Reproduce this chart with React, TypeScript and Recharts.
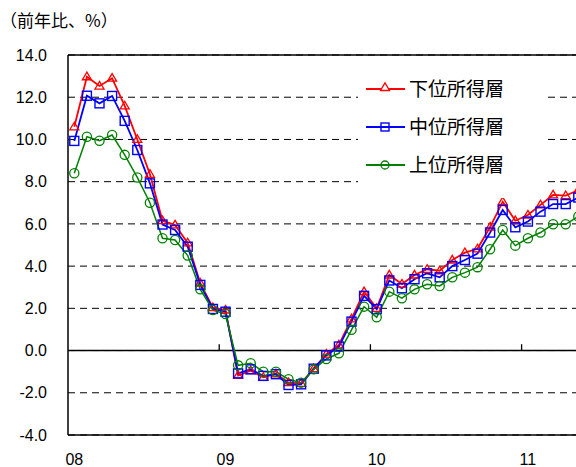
import React from 'react';
import { LineChart, Line, XAxis, YAxis, CartesianGrid, ReferenceLine, Legend } from 'recharts';

const months = [
  '2008-01', '2008-02', '2008-03', '2008-04', '2008-05', '2008-06', '2008-07', '2008-08', '2008-09', '2008-10', '2008-11', '2008-12',
  '2009-01', '2009-02', '2009-03', '2009-04', '2009-05', '2009-06', '2009-07', '2009-08', '2009-09', '2009-10', '2009-11', '2009-12',
  '2010-01', '2010-02', '2010-03', '2010-04', '2010-05', '2010-06', '2010-07', '2010-08', '2010-09', '2010-10', '2010-11', '2010-12',
  '2011-01', '2011-02', '2011-03', '2011-04', '2011-05',
];

const lowIncome = [
  10.6, 12.97, 12.53, 12.9, 11.59, 10.0, 8.35, 6.15, 5.95, 5.1, 3.19, 2.03,
  1.92, -1.18, -0.95, -1.27, -1.1, -1.52, -1.55, -0.86, -0.17, 0.27, 1.5, 2.79,
  2.0, 3.58, 3.15, 3.58, 3.85, 3.78, 4.29, 4.64, 4.82, 5.85, 7.05, 6.15,
  6.42, 6.9, 7.37, 7.34, 7.6,
];

const midIncome = [
  9.93, 12.07, 11.71, 12.06, 10.88, 9.5, 7.92, 5.97, 5.71, 4.92, 3.11, 1.97,
  1.84, -1.08, -0.89, -1.2, -1.12, -1.63, -1.6, -0.86, -0.23, 0.19, 1.37, 2.59,
  1.96, 3.32, 2.95, 3.38, 3.66, 3.47, 4.0, 4.29, 4.59, 5.59, 6.66, 5.84,
  6.11, 6.58, 6.94, 6.94, 7.25,
];

const highIncome = [
  8.4, 10.13, 9.94, 10.21, 9.27, 8.2, 7.0, 5.32, 5.24, 4.5, 2.9, 1.92,
  1.73, -0.7, -0.6, -1.0, -1.0, -1.36, -1.52, -0.89, -0.4, -0.13, 0.98, 2.08,
  1.58, 2.79, 2.48, 2.9, 3.14, 3.06, 3.47, 3.69, 3.95, 4.8, 5.71, 4.97,
  5.32, 5.59, 5.98, 5.98, 6.35,
];

const seriesNames = ['下位所得層', '中位所得層', '上位所得層'];
const seriesColors = ['#FF0000', '#0000FF', '#008000'];
const yearStartIndex = [0, 12, 24, 36];
const yearLabels = ['08', '09', '10', '11'];
const yearBoundaries = [12, 24, 36];
const yTicks = [-4, -2, 0, 2, 4, 6, 8, 10, 12, 14];
const titleText = '（前年比、%）';

const data = months.map((m, i) => ({
  x: i + 0.5,
  month: m,
  low: lowIncome[i],
  mid: midIncome[i],
  high: highIncome[i],
}));

const triPath = (cx: number, cy: number) =>
  `M${cx},${cy - 4.6} L${cx + 4.5},${cy + 3} L${cx - 4.5},${cy + 3} Z`;

const TriDot = (props: any) => {
  const { cx, cy, index } = props;
  if (cx == null || cy == null) return <g key={`t${index}`} />;
  return <path key={`t${index}`} d={triPath(cx, cy)} fill="none" stroke={seriesColors[0]} strokeWidth={1.3} />;
};
const SqDot = (props: any) => {
  const { cx, cy, index } = props;
  if (cx == null || cy == null) return <g key={`s${index}`} />;
  return <rect key={`s${index}`} x={cx - 4.5} y={cy - 4.5} width={9} height={9} fill="none" stroke={seriesColors[1]} strokeWidth={1.4} />;
};
const CircDot = (props: any) => {
  const { cx, cy, index } = props;
  if (cx == null || cy == null) return <g key={`c${index}`} />;
  return <circle key={`c${index}`} cx={cx} cy={cy} r={4.6} fill="none" stroke={seriesColors[2]} strokeWidth={1.3} />;
};

const LegendBox = () => {
  const rows = [23, 61, 99];
  return (
    <div style={{ width: 187, height: 132, background: '#fff' }}>
      <svg width={187} height={132}>
        {seriesNames.map((name, i) => {
          const y = rows[i];
          const c = seriesColors[i];
          return (
            <g key={name}>
              <line x1={8} x2={47} y1={y} y2={y} stroke={c} strokeWidth={1.8} />
              {i === 0 && <path d={triPath(27, y - 1.5)} fill="#fff" stroke={c} strokeWidth={1.3} />}
              {i === 1 && <rect x={23} y={y - 4} width={8} height={8} fill="none" stroke={c} strokeWidth={1.4} />}
              {i === 2 && <circle cx={27} cy={y} r={4} fill="none" stroke={c} strokeWidth={1.3} />}
              <text x={51} y={y} dy="0.36em" fontSize={19} fontFamily="'Noto Sans CJK JP', sans-serif" fill="#000">
                {name}
              </text>
            </g>
          );
        })}
      </svg>
    </div>
  );
};

export default function App() {
  return (
    <div style={{ position: 'absolute', left: 0, top: 0, width: 576, height: 467, overflow: 'hidden', background: '#fff' }}>
      <div
        style={{
          position: 'absolute', left: 0, top: 11, height: 18, lineHeight: '18px',
          fontSize: 17, fontFamily: "'Noto Sans CJK JP', sans-serif", color: '#000', whiteSpace: 'nowrap',
        }}
      >
        {titleText}
      </div>
      <LineChart
        width={600}
        height={467}
        data={data}
        margin={{ top: 55, right: 15.4, bottom: 2, left: 8 }}
      >
        <CartesianGrid horizontal vertical={false} stroke="#000" strokeDasharray="7 5" />
        <XAxis
          dataKey="x"
          type="number"
          domain={[0, 41]}
          allowDataOverflow
          ticks={yearStartIndex.map((i) => i + 0.5)}
          tickFormatter={(v: number) => yearLabels[yearStartIndex.indexOf(Math.round(v - 0.5))]}
          axisLine={{ stroke: '#000', strokeWidth: 1.5 }}
          tickLine={false}
          tickSize={0}
          tickMargin={19}
          height={30}
          tick={{ fontSize: 16, fill: '#000', fontFamily: "'Liberation Sans', Arial, sans-serif" }}
        />
        <YAxis
          type="number"
          domain={[-4, 14]}
          ticks={yTicks}
          tickFormatter={(v: number) => v.toFixed(1)}
          axisLine={{ stroke: '#000', strokeWidth: 1.5 }}
          tickLine={false}
          tickSize={0}
          tickMargin={21}
          width={60}
          tick={{ fontSize: 16, fill: '#000', fontFamily: "'Liberation Sans', Arial, sans-serif" }}
        />
        <ReferenceLine y={14} stroke="#000" strokeWidth={1.5} />
        <ReferenceLine y={0} stroke="#000" strokeWidth={1.5} />
        {yearBoundaries.map((b) => (
          <ReferenceLine key={b} segment={[{ x: b, y: 0 }, { x: b, y: 0.3 }]} stroke="#000" strokeWidth={1.3} />
        ))}
        <Legend
          layout="horizontal"
          verticalAlign="middle"
          align="center"
          content={() => <LegendBox />}
          wrapperStyle={{ left: 358, top: 66, width: 187, height: 132 }}
        />
        <Line type="linear" dataKey="low" name={seriesNames[0]} stroke={seriesColors[0]} strokeWidth={1.8} dot={TriDot} activeDot={false} isAnimationActive={false} />
        <Line type="linear" dataKey="mid" name={seriesNames[1]} stroke={seriesColors[1]} strokeWidth={1.8} dot={SqDot} activeDot={false} isAnimationActive={false} />
        <Line type="linear" dataKey="high" name={seriesNames[2]} stroke={seriesColors[2]} strokeWidth={1.5} dot={CircDot} activeDot={false} isAnimationActive={false} />
      </LineChart>
    </div>
  );
}
